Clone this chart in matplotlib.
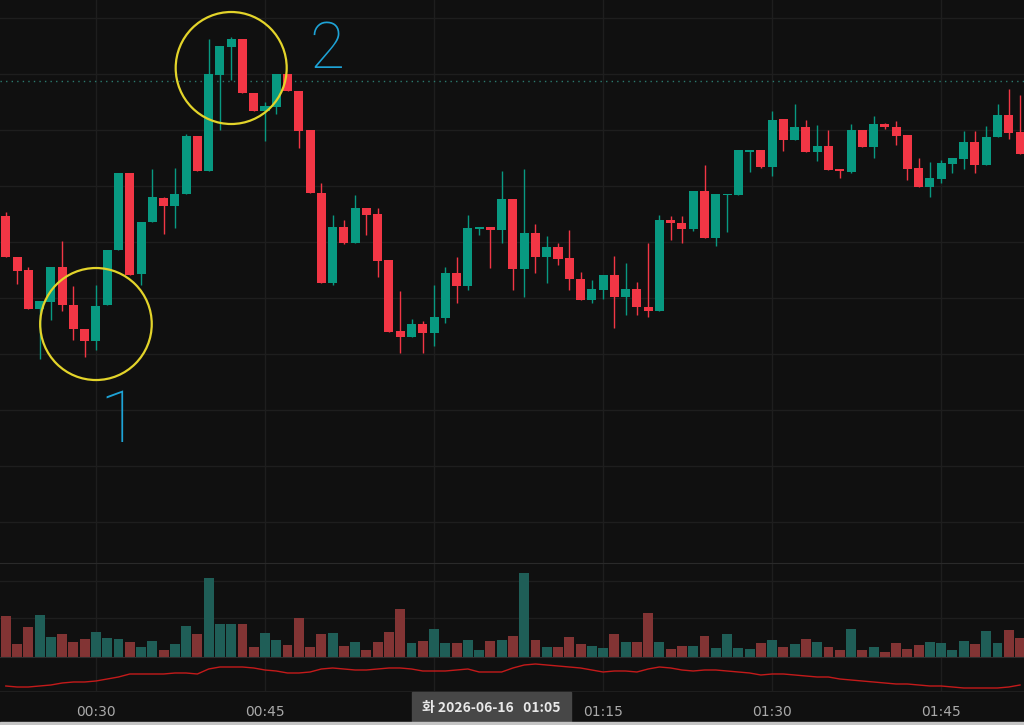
import numpy as np
import pandas as pd
import matplotlib
matplotlib.use("Agg")
import matplotlib.pyplot as plt
from matplotlib.patches import Ellipse, Rectangle

# 1-minute candles, 00:22 .. 01:52
opens = [484, 443, 430, 391, 398, 433, 395, 371, 359, 395,
         450, 527, 426, 478, 502, 494, 506, 564, 529, 625,
         653, 661, 607, 589, 593, 626, 609, 570, 507, 417,
         473, 457, 492, 486, 440, 369, 363, 376, 367, 382,
         427, 414, 471, 473, 470, 501, 431, 467, 443, 453,
         442, 421, 400, 410, 425, 403, 411, 393, 389, 480,
         477, 471, 509, 462, 505, 505, 548, 550, 533, 581,
         560, 573, 548, 554, 531, 528, 570, 553, 576, 573,
         565, 532, 513, 521, 536, 541, 558, 535, 563, 585, 568]
highs = [488, 443, 433, 399, 433, 459, 414, 371, 415, 450,
         527, 527, 478, 531, 503, 532, 566, 564, 661, 654,
         663, 661, 607, 598, 626, 626, 609, 570, 517, 485,
         480, 505, 492, 492, 440, 409, 381, 379, 415, 433,
         443, 485, 473, 473, 529, 501, 531, 476, 464, 457,
         470, 428, 420, 425, 444, 437, 418, 457, 485, 484,
         484, 509, 535, 506, 506, 550, 550, 550, 589, 581,
         596, 580, 575, 570, 531, 576, 570, 584, 577, 579,
         565, 542, 538, 540, 542, 569, 569, 574, 596, 611, 605]
lows = [443, 416, 391, 341, 380, 389, 360, 343, 350, 395,
        450, 425, 415, 478, 466, 472, 506, 529, 529, 570,
        620, 607, 589, 559, 586, 609, 552, 507, 417, 415,
        456, 457, 465, 423, 368, 347, 363, 347, 354, 377,
        397, 410, 465, 432, 457, 410, 403, 427, 417, 435,
        410, 400, 397, 401, 372, 385, 385, 383, 389, 460,
        457, 469, 462, 454, 468, 505, 528, 532, 524, 549,
        560, 548, 539, 530, 522, 527, 553, 542, 571, 555,
        520, 513, 503, 517, 527, 531, 527, 535, 563, 561, 546]
closes = [443, 429, 391, 399, 433, 395, 371, 359, 394, 450,
          527, 425, 478, 503, 494, 506, 564, 529, 626, 654,
          661, 607, 589, 594, 626, 609, 569, 507, 417, 473,
          457, 492, 485, 439, 368, 363, 376, 367, 383, 427,
          414, 472, 473, 470, 501, 431, 467, 443, 453, 441,
          421, 400, 411, 425, 403, 411, 393, 389, 480, 477,
          471, 509, 462, 506, 506, 550, 550, 533, 580, 560,
          573, 548, 554, 530, 529, 570, 553, 576, 573, 564,
          531, 513, 522, 537, 542, 558, 535, 563, 585, 567, 546]
volumes = [41, 13, 30, 42, 20, 23, 15, 18, 25, 19,
           18, 15, 10, 16, 7, 13, 31, 23, 79, 33,
           33, 33, 10, 24, 17, 12, 39, 10, 23, 24,
           11, 15, 7, 15, 25, 48, 14, 16, 28, 14,
           14, 17, 7, 16, 17, 21, 84, 17, 10, 10,
           20, 13, 11, 9, 23, 15, 15, 44, 15, 8,
           11, 11, 21, 9, 23, 9, 8, 14, 17, 10,
           13, 18, 15, 10, 7, 28, 7, 10, 5, 14,
           8, 12, 15, 14, 7, 16, 13, 26, 14, 27, 19]
signal = [14, 13, 13, 14, 15, 17, 18, 18, 19, 21,
          23, 26, 26, 26, 26, 27, 27, 26, 31, 33,
          33, 33, 32, 30, 29, 27, 27, 28, 31, 32,
          31, 30, 30, 31, 32, 32, 31, 29, 29, 29,
          30, 31, 28, 28, 28, 32, 35, 36, 35, 34,
          33, 32, 30, 28, 29, 29, 28, 31, 33, 32,
          30, 29, 30, 30, 29, 28, 27, 25, 26, 26,
          25, 24, 23, 23, 21, 20, 19, 18, 17, 16,
          16, 15, 14, 14, 13, 12, 12, 12, 12, 13, 15]
last_price = 619
date_label = "화 2026-06-16   01:05"
cursor_time = "2026-06-16 01:05"

times = pd.date_range("2026-06-16 00:22", periods=len(opens), freq="min")
x = np.arange(len(opens))
o = np.array(opens); c = np.array(closes)
up = c >= o
cursor = int(np.where(times == pd.Timestamp(cursor_time))[0][0])

BG = "#101010"
GRID = "#1e1e1e"
GREEN = "#089981"
RED = "#f23645"

fig = plt.figure(figsize=(10.24, 7.25), dpi=100, facecolor=BG)
ax = fig.add_axes([0, 0.2234, 1, 0.7766])
axv = fig.add_axes([0, 0.0938, 1, 0.1297], sharex=ax)
axi = fig.add_axes([0, 0.0469, 1, 0.0469], sharex=ax)

tick_pos = [i for i, t in enumerate(times) if t.minute % 15 == 0]
# the label under the cursor date box is hidden, as in the app
tick_lab = ["" if abs(i - cursor) < 8 else times[i].strftime("%H:%M") for i in tick_pos]

for a in (ax, axv, axi):
    a.set_facecolor(BG)
    for s in a.spines.values():
        s.set_visible(False)
    a.tick_params(left=False, labelleft=False, bottom=False, labelbottom=False)
    a.set_xticks(tick_pos)
    a.grid(True, color=GRID, lw=1)
    a.set_axisbelow(True)

cols = np.where(up, GREEN, RED)
ax.vlines(x, lows, highs, colors=cols, lw=1, zorder=2)
ax.bar(x, np.abs(c - o), bottom=np.minimum(o, c), width=0.8, color=cols, zorder=3)
ax.axhline(last_price, color="#2c7a6e", lw=1, ls=(0, (1, 3)), zorder=1)
ax.set_yticks(np.arange(178, 700, 56))
ax.set_ylim(137, 700)
ax.set_xlim(-0.515, 90.35)

# hand-drawn marks
ax.add_patch(Ellipse((8.0, 376), 9.9, 112, fill=False, ec="#e3d42a", lw=1.6, zorder=4))
ax.add_patch(Ellipse((20.0, 632), 9.85, 112, fill=False, ec="#e3d42a", lw=1.6, zorder=4))
ax.text(10.1, 278, "1", color="#1ea3d6", fontsize=52, ha="center", va="center",
        family=["Roboto", "DejaVu Sans"], weight="light", zorder=5)
ax.text(28.5, 650, "2", color="#1ea3d6", fontsize=46, ha="center", va="center",
        family=["Roboto", "DejaVu Sans"], weight="light", zorder=5)

vcols = np.where(up, "#1f5e57", "#823434")
axv.bar(x, volumes, width=0.88, color=vcols, zorder=2)
axv.set_ylim(0, 94)
axv.set_yticks([39, 76])
axv.spines["top"].set_visible(True)
axv.spines["top"].set_color("#2a2a2a")

axi.plot(x, signal, color="#c41a1a", lw=1)
axi.set_ylim(9, 43)
axi.set_yticks([])
axi.spines["top"].set_visible(True)
axi.spines["top"].set_color("#2e2e2e")
axi.spines["bottom"].set_visible(True)
axi.spines["bottom"].set_color(GRID)
axi.tick_params(labelbottom=True, length=0, pad=10, labelcolor="#a9a9a9", labelsize=10)
axi.set_xticklabels(tick_lab)

fig.add_artist(Rectangle((412 / 1024, 3 / 725), 159 / 1024, 30 / 725,
                         transform=fig.transFigure, color="#474747", zorder=10))
fig.text(491 / 1024, 1 - 708 / 725, date_label, ha="center", va="center",
         color="#e8e8e8", fontsize=10, weight="bold",
         family=["Noto Sans CJK KR", "DejaVu Sans"], zorder=11)
fig.add_artist(Rectangle((0, 0), 1, 3 / 725, transform=fig.transFigure,
                         color="#c4c4c4", zorder=10))

fig.savefig("out.png", dpi=100, facecolor=BG)
